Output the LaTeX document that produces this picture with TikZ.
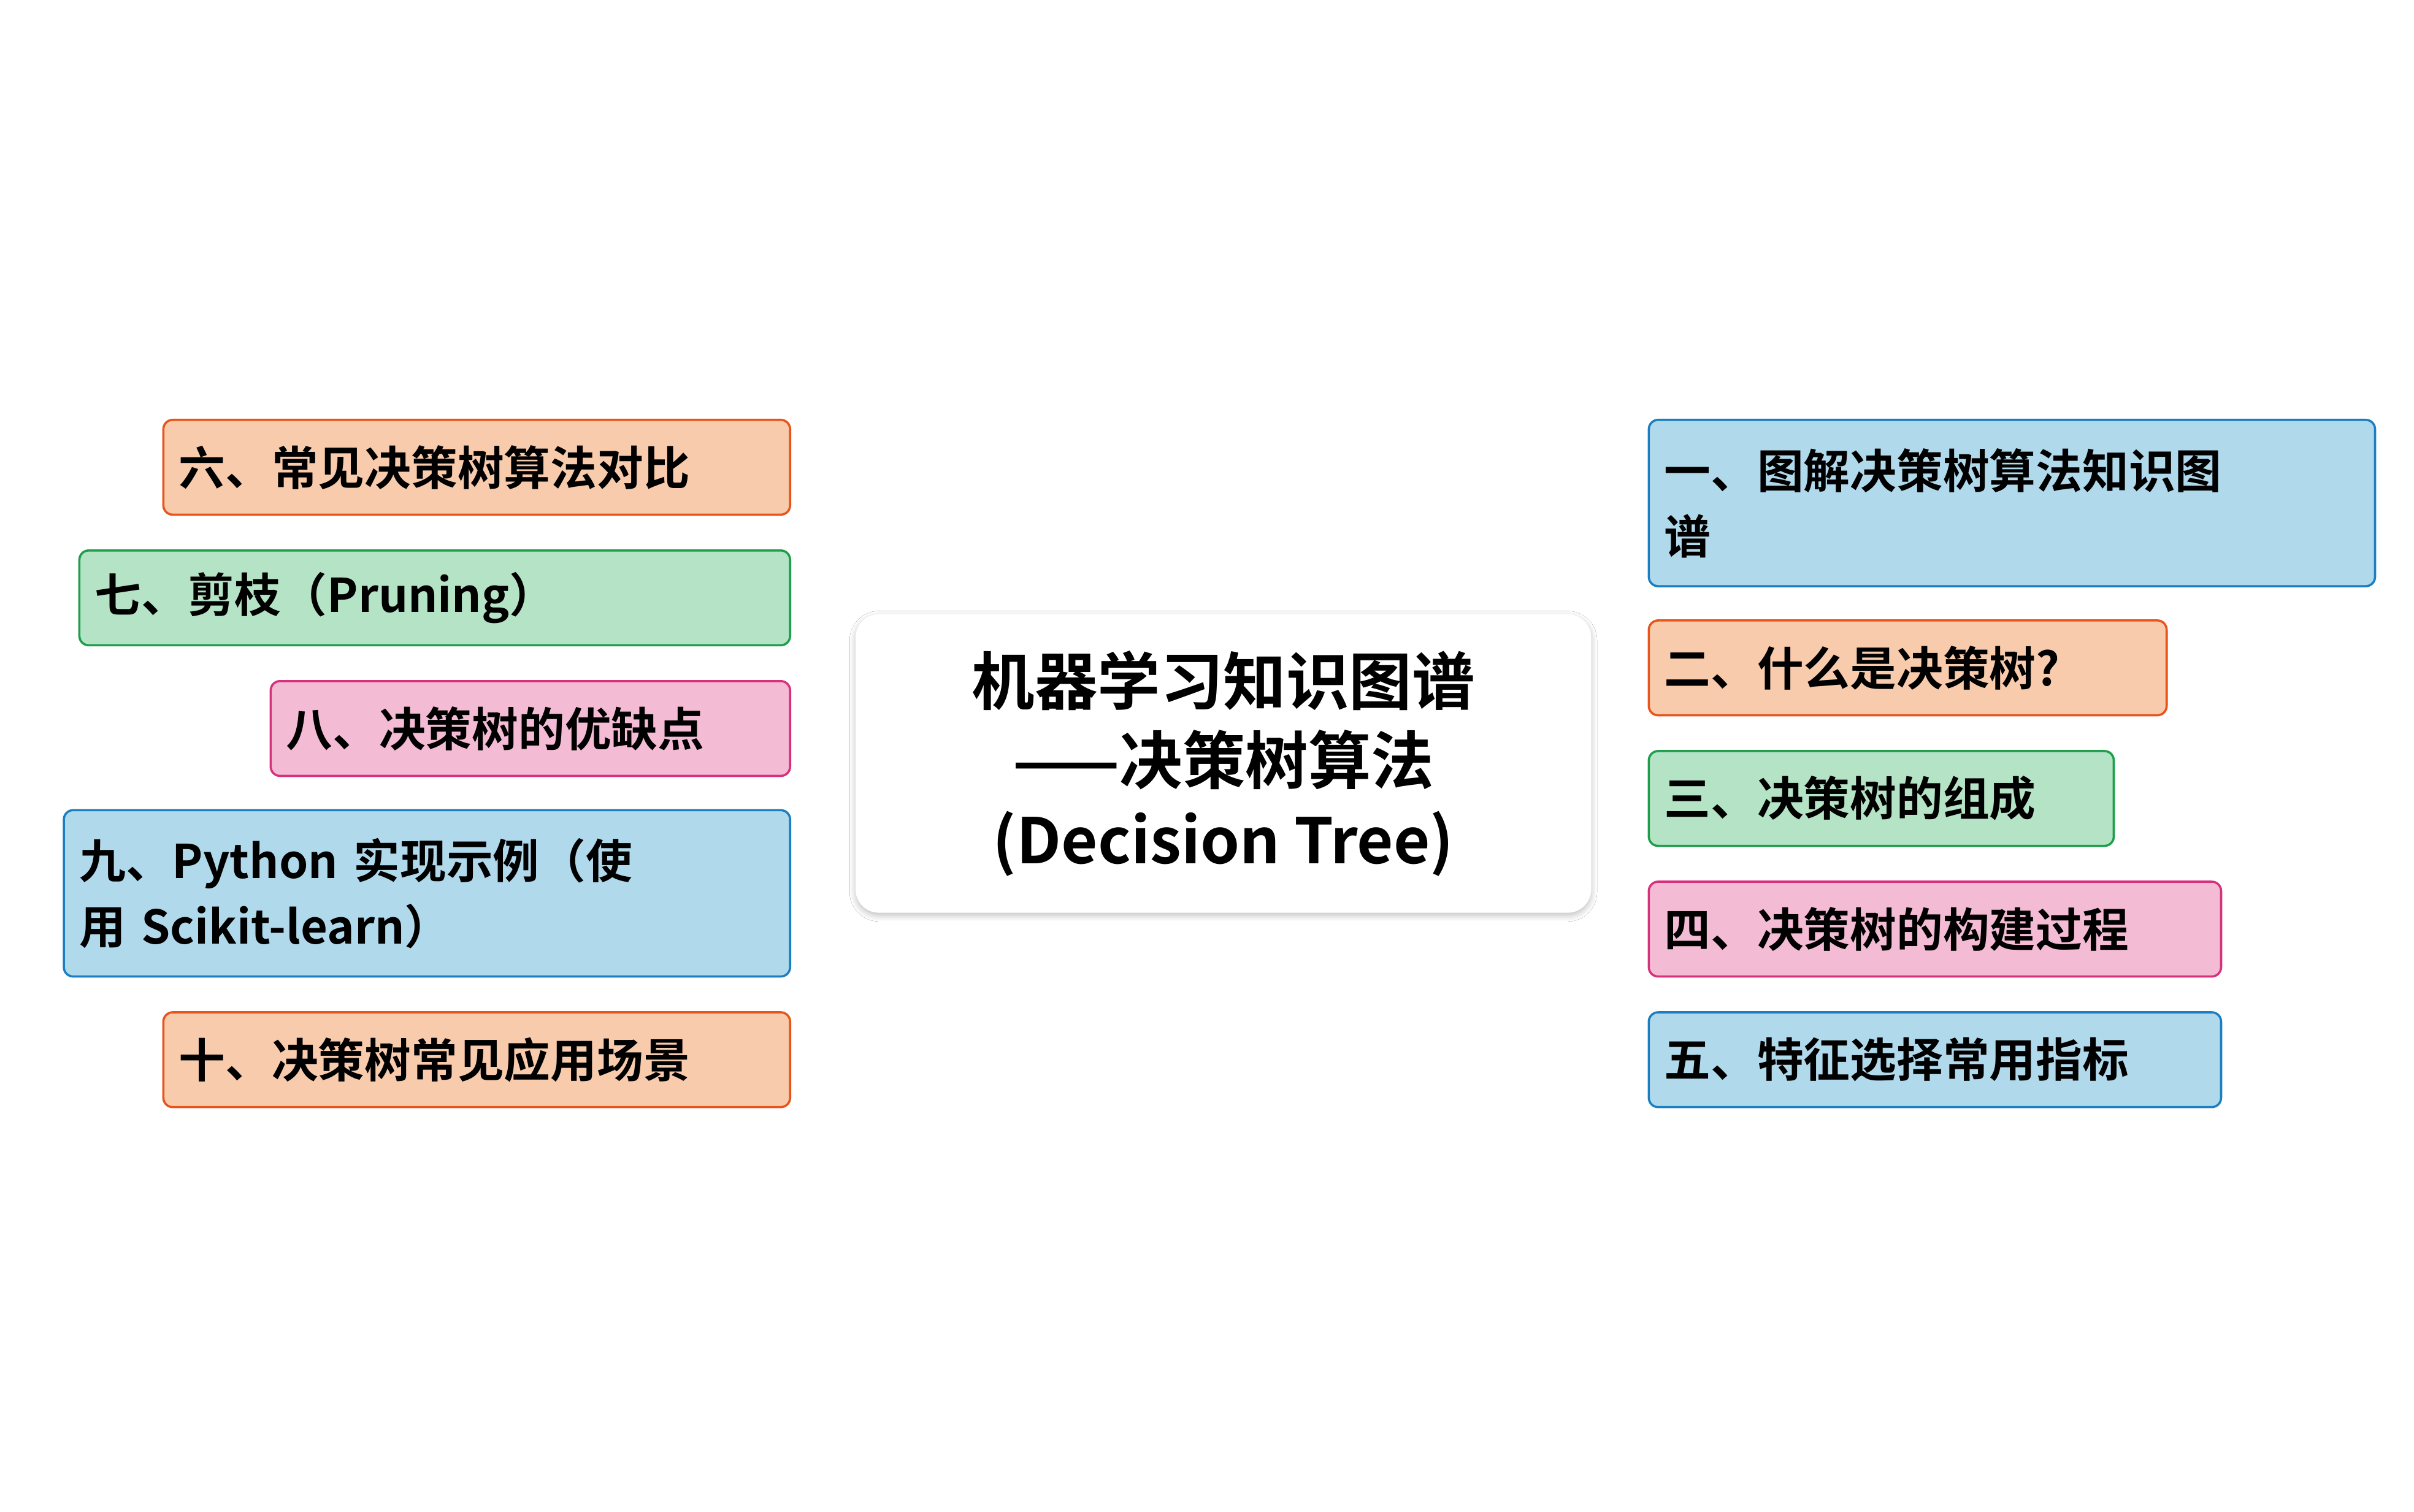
\documentclass[tikz,border=0pt]{standalone}
\usepackage{fontspec}
\setmainfont{Noto Sans CJK SC}[BoldFont={* Bold}]
\usetikzlibrary{shadows.blur,backgrounds}
\definecolor{bF}{HTML}{B1D9EC}\definecolor{bL}{HTML}{1A7EC0}
\definecolor{oF}{HTML}{F8CBAD}\definecolor{oL}{HTML}{E8541A}
\definecolor{gF}{HTML}{B5E3C5}\definecolor{gL}{HTML}{1E9E4A}
\definecolor{pF}{HTML}{F4BBD4}\definecolor{pL}{HTML}{D6317C}
\definecolor{bW}{HTML}{0A84C8}
\begin{document}
\begin{tikzpicture}[x=0.02cm,y=-0.02cm,
 item/.style={draw, rounded corners=0.12cm, line width=0.8pt, align=left, inner xsep=0.2cm, inner ysep=0pt,
   font=\fontsize{17}{24}\selectfont\bfseries, anchor=center},
 link/.style={line width=4.2pt, line cap=round}]
\useasboundingbox (0,0) rectangle (1552,972);
\fill[white] (0,0) rectangle (1552,972);
\node[fill=white, rounded corners=0.3cm, blur shadow={shadow blur steps=8,shadow xshift=0pt,shadow yshift=-1pt,shadow opacity=25},
  minimum width=9.46cm, minimum height=3.84cm, align=center, font=\fontsize{23}{29}\selectfont\bfseries]
  (c) at (786.5,491) {机器学习知识图谱\\——决策树算法\\(Decision Tree)};
\node[item, fill=bF, draw=bL, text width=8.94cm, minimum height=2.14cm] (n1) at (1293.5,323.5) {一、图解决策树算法知识图\\谱};
\node[item, fill=oF, draw=oL, text width=6.26cm, minimum height=1.22cm] (n2) at (1226.5,429.5) {二、什么是决策树?};
\node[item, fill=gF, draw=gL, text width=5.58cm, minimum height=1.22cm] (n3) at (1209.5,513.5) {三、决策树的组成};
\node[item, fill=pF, draw=pL, text width=6.96cm, minimum height=1.22cm] (n4) at (1244,597.5) {四、决策树的构建过程};
\node[item, fill=bF, draw=bL, text width=6.96cm, minimum height=1.22cm] (n5) at (1244,681.5) {五、特征选择常用指标};
\node[item, fill=oF, draw=oL, text width=7.66cm, minimum height=1.22cm] (n6) at (306.5,300.5) {六、常见决策树算法对比};
\node[item, fill=gF, draw=gL, text width=8.74cm, minimum height=1.22cm] (n7) at (279.5,384.5) {七、剪枝（Pruning）};
\node[item, fill=pF, draw=pL, text width=6.28cm, minimum height=1.22cm] (n8) at (341,468.5) {八、决策树的优缺点};
\node[item, fill=bF, draw=bL, text width=8.94cm, minimum height=2.14cm] (n9) at (274.5,574.5) {九、Python 实现示例（使\\用 Scikit-learn）};
\node[item, fill=oF, draw=oL, text width=7.66cm, minimum height=1.22cm] (n10) at (306.5,681.5) {十、决策树常见应用场景};
\begin{scope}[on background layer]
\draw[link, bW] (c.north east) ++(-113,0) coordinate (a1) .. controls (980,330) .. (n1.west);
\draw[link, oL] (c.east |- n2.west) -- (n2.west);
\draw[link, gL] (c.east |- n3.west) -- (n3.west);
\draw[link, pL] (c.south east) ++(-60,-10) coordinate (a4) .. controls (1010,598) .. (n4.west);
\draw[link, bW] (c.south east) ++(-95,0) coordinate (a5) .. controls (980,683) .. (n5.west);
\draw[link, oL] (c.north west) ++(110,0) coordinate (a6) .. controls (590,300) .. (n6.east);
\draw[link, gL] (c.north west) ++(70,10) coordinate (a7) .. controls (560,383) .. (n7.east);
\draw[link, pL] (c.west |- 0,466) coordinate (a8) -- (n8.east);
\draw[link, bW] (c.west |- 0,568) coordinate (a9) .. controls (530,574) .. (n9.east);
\draw[link, oL] (c.south west) ++(82,0) coordinate (a10) .. controls (580,683) .. (n10.east);
\end{scope}
\end{tikzpicture}
\end{document}
